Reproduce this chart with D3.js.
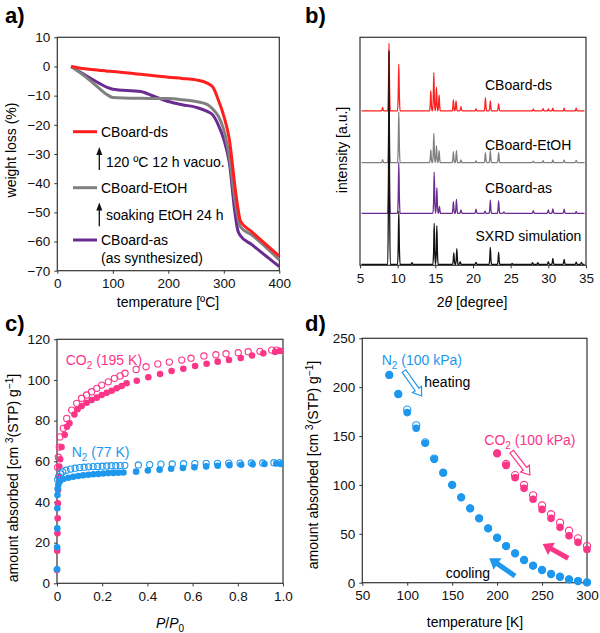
<!DOCTYPE html>
<html lang="en">
<head>
<meta charset="UTF-8">
<title>CBoard figure</title>
<script src="https://cdn.jsdelivr.net/npm/d3@7"></script>
<style>
  body { margin: 0; background: #fff; }
  svg text { font-family: "Liberation Sans", Arial, sans-serif; }
</style>
</head>
<body>
<svg id="fig" width="600" height="633"></svg>
<script>
// ---- a) TGA curves
var tgaTemp   = [25, 50, 75, 90, 100, 150, 175, 200, 225, 250, 270, 280, 290, 300, 310, 320, 325, 330, 350, 400];
var tgaDs     = [0, -0.8, -1.3, -1.6, -1.7, -2.7, -3.2, -3.7, -4.1, -4.6, -5.7, -7, -11.4, -17, -25, -41, -48, -53, -56.6, -65];
var tgaEtOH   = [0, -3.4, -7.4, -9.7, -10.6, -10.9, -10.95, -11, -11.4, -12, -13, -14.6, -17, -21.7, -31, -45.7, -51.4, -55, -57.7, -66.3];
var tgaAs     = [0, -2.9, -5.7, -7.2, -7.8, -8.6, -10.3, -12, -13.1, -14, -15.4, -16.6, -20, -25, -33, -50, -56, -58, -61, -68.6];

// ---- b) PXRD peaks (2theta, height) and offsets
var dsPos   = [8.0, 8.85, 10.15, 14.4, 14.8, 15.15, 15.5, 17.4, 17.75, 18.4, 20.4, 21.65, 22.3, 23.4, 28.0, 29.3, 30.0, 30.6, 32.1, 33.7];
var dsInt   = [1.5, 29.7, 20.5, 8.9, 16.8, 10.4, 7.0, 4.8, 4.4, 1.9, 0.9, 5.8, 4.4, 3.2, 0.8, 1.0, 0.9, 1.2, 1.2, 1.2];
var etohPos = [8.0, 8.85, 10.15, 14.4, 14.8, 15.15, 15.5, 17.4, 17.8, 18.4, 20.4, 21.65, 22.3, 23.4, 28.0, 29.3, 30.6, 32.1, 33.7];
var etohInt = [1.3, 28, 22.4, 5.6, 12.9, 7.5, 5.3, 4.8, 5.3, 1.2, 0.8, 4.4, 5.3, 4.4, 0.7, 0.9, 1.2, 1.1, 1.0];
var asPos   = [8.85, 10.15, 14.85, 15.2, 15.55, 17.4, 17.8, 18.4, 20.4, 21.6, 22.3, 23.4, 24.1, 28.0, 30.0, 30.6, 32.1, 33.7];
var asInt   = [30, 22.4, 18.1, 11.3, 3.0, 5.1, 6.1, 1.5, 1.8, 1.0, 5.8, 5.4, 0.6, 1.2, 1.5, 1.9, 1.8, 0.8];
var simPos  = [8.85, 10.15, 11.9, 14.85, 15.2, 17.45, 17.85, 18.3, 20.4, 22.3, 23.4, 25.2, 27.9, 28.6, 30.0, 30.6, 32.1, 33.7, 34.4];
var simInt  = [93.5, 23.4, 0.8, 18, 17, 5, 6.9, 1.2, 0.9, 7.5, 5.3, 0.4, 0.8, 0.8, 1.2, 2.6, 2.2, 1.0, 0.9];
var xrdNames   = ["CBoard-ds", "CBoard-EtOH", "CBoard-as", "SXRD simulation"];
var xrdOffsets = [67.7, 45, 22.8, 0.4];

// ---- c) isotherms
var co2AdsP = [0, 0.001, 0.002, 0.003, 0.004, 0.005, 0.007, 0.01, 0.014, 0.02, 0.034, 0.044, 0.055, 0.077, 0.091, 0.109, 0.131, 0.153, 0.176, 0.198, 0.22, 0.242, 0.264, 0.286, 0.308, 0.353, 0.404, 0.456, 0.507, 0.559, 0.611, 0.662, 0.711, 0.761, 0.813, 0.863, 0.913, 0.965, 0.987];
var co2AdsV = [6.6, 16, 24.6, 32, 39.3, 46, 52.5, 57.4, 61, 67, 73, 77, 78.7, 83, 85.6, 87.2, 88.8, 90.1, 91.3, 92.6, 93.7, 94.7, 95.9, 97, 98.4, 99.6, 101.3, 102.9, 104.4, 105.5, 106.9, 108, 109, 109.8, 110.8, 112, 113.1, 113.8, 114.3];
var co2DesP = [0.003, 0.006, 0.01, 0.013, 0.028, 0.043, 0.065, 0.087, 0.109, 0.131, 0.153, 0.176, 0.198, 0.227, 0.254, 0.279, 0.301, 0.35, 0.394, 0.446, 0.497, 0.552, 0.593, 0.65, 0.703, 0.748, 0.802, 0.846, 0.898, 0.95, 0.972];
var co2DesV = [57, 62, 67, 72, 76.2, 81.1, 85.2, 88.5, 91, 92.6, 94.2, 95.9, 97.5, 99.1, 100.8, 102, 103.3, 105.2, 106.5, 107.9, 108.8, 109.8, 110.7, 111.8, 112.4, 112.9, 113.4, 113.9, 114.1, 114.7, 114.7];
var n2AdsP  = [0.0002, 0.0005, 0.001, 0.0015, 0.002, 0.003, 0.006, 0.013, 0.028, 0.05, 0.072, 0.094, 0.116, 0.139, 0.161, 0.183, 0.205, 0.227, 0.25, 0.272, 0.294, 0.35, 0.402, 0.454, 0.505, 0.557, 0.608, 0.66, 0.711, 0.763, 0.815, 0.866, 0.918, 0.97, 0.99];
var n2AdsV  = [6.9, 17.7, 27, 36.9, 43.4, 46.5, 48.5, 50.2, 51.3, 51.9, 52.4, 52.8, 53.1, 53.4, 53.6, 53.8, 54.0, 54.2, 54.3, 54.4, 54.5, 54.9, 55.5, 55.9, 56.3, 56.7, 57.1, 57.5, 57.8, 58.1, 58.3, 58.5, 58.7, 58.9, 58.7];
var n2DesP  = [0.003, 0.008, 0.015, 0.025, 0.04, 0.06, 0.08, 0.1, 0.12, 0.14, 0.16, 0.18, 0.2, 0.22, 0.24, 0.26, 0.28, 0.3, 0.36, 0.41, 0.46, 0.51, 0.56, 0.61, 0.66, 0.71, 0.76, 0.81, 0.86, 0.91, 0.96, 0.985];
var n2DesV  = [51, 52.5, 53.8, 54.8, 55.6, 56.2, 56.6, 56.9, 57.1, 57.3, 57.4, 57.5, 57.6, 57.7, 57.8, 57.8, 57.9, 58, 58.2, 58.4, 58.6, 58.7, 58.8, 58.9, 59, 59, 59.1, 59.1, 59.2, 59.2, 59.3, 59.3];

// ---- d) isobars
var n2Temp  = [80, 90, 100, 110, 120, 130, 140, 150, 160, 170, 180, 190, 200, 210, 220, 230, 240, 250, 260, 270, 280, 290, 300];
var n2Cool  = [212.5, 192.7, 174, 158, 142.6, 126.2, 112.5, 100, 87.3, 76, 65.8, 55.6, 46, 37.5, 30, 23.2, 17.4, 13, 8.9, 6.1, 3.4, 1.7, 0.3];
var n2Heat  = [212.5, 193, 177, 161, 143.5, 127, 112.5, 100, 87.3, 76, 65.8, 55.6, 46, 37.5, 30, 23.2, 17.4, 13, 8.9, 6.1, 3.4, 1.7, 0.3];
var co2Temp = [200, 210, 220, 230, 240, 250, 260, 270, 280, 290, 300];
var co2Cool = [132.3, 120, 107.4, 96.5, 85.3, 75, 65.8, 56.6, 48, 41.3, 34];
var co2Heat = [132.3, 121.4, 110, 100, 89.4, 79, 70, 61.4, 53.2, 45.4, 37.5];

var RED = "#ff1f1f", GRAY = "#808080", PURPLE = "#6b2c91", PINK = "#fb3587", BLUE = "#1e98ee";

var svg = d3.select("#fig");

function drawFrame(x, y, xVals, yVals, xFmt) {
  var g = svg.append("g");
  var xa = d3.axisBottom(x).tickValues(xVals).tickSize(3).tickSizeOuter(0).tickPadding(5);
  if (xFmt) xa.tickFormat(xFmt);
  g.append("g").attr("transform", "translate(0," + y.range()[0] + ")").call(xa);
  if (yVals) {
    var ya = d3.axisLeft(y).tickValues(yVals).tickSize(3).tickSizeOuter(0).tickPadding(4);
    g.append("g").attr("transform", "translate(" + x.range()[0] + ",0)").call(ya);
  }
  g.selectAll(".domain").remove();
  g.selectAll(".tick text").attr("font-size", 13.5).attr("fill", "#111")
    .attr("font-family", '"Liberation Sans", Arial, sans-serif');
  g.selectAll(".tick line").attr("stroke", "#333");
  g.append("rect")
    .attr("x", x.range()[0]).attr("y", y.range()[1])
    .attr("width", x.range()[1] - x.range()[0])
    .attr("height", y.range()[0] - y.range()[1])
    .attr("fill", "none").attr("stroke", "#333").attr("stroke-width", 1.2);
}

function panelLabel(txt, x, y) {
  svg.append("text").attr("x", x).attr("y", y).attr("font-size", 22)
    .attr("font-weight", "bold").text(txt);
}

function arrowShape(x1, y1, x2, y2, sw, hw, hl) {
  var dx = x2 - x1, dy = y2 - y1, L = Math.hypot(dx, dy);
  var ux = dx / L, uy = dy / L, px = -uy, py = ux;
  var bx = x2 - ux * hl, by = y2 - uy * hl;
  var pts = [
    [x1 + px * sw / 2, y1 + py * sw / 2], [bx + px * sw / 2, by + py * sw / 2],
    [bx + px * hw / 2, by + py * hw / 2], [x2, y2],
    [bx - px * hw / 2, by - py * hw / 2], [bx - px * sw / 2, by - py * sw / 2],
    [x1 - px * sw / 2, y1 - py * sw / 2]
  ];
  return pts.map(function (p) { return p.join(","); }).join(" ");
}

// ================= a) =================
var xA = d3.scaleLinear().domain([0, 400]).range([57.3, 279.3]);
var yA = d3.scaleLinear().domain([-70, 10]).range([270.7, 37.3]);
drawFrame(xA, yA, [0, 100, 200, 300, 400], d3.range(-70, 11, 10));
panelLabel("a)", 5, 23);

var lineA = d3.line().x(function (d) { return xA(d[0]); }).y(function (d) { return yA(d[1]); })
  .curve(d3.curveMonotoneX);
[[tgaAs, PURPLE], [tgaEtOH, GRAY], [tgaDs, RED]].forEach(function (s) {
  svg.append("path").datum(d3.zip(tgaTemp, s[0])).attr("d", lineA)
    .attr("fill", "none").attr("stroke", s[1]).attr("stroke-width", 3);
});

// legend
var legA = [["CBoard-ds", RED, 131.7], ["CBoard-EtOH", GRAY, 187.7], ["CBoard-as", PURPLE, 240]];
legA.forEach(function (l) {
  svg.append("line").attr("x1", 73).attr("x2", 97).attr("y1", l[2]).attr("y2", l[2])
    .attr("stroke", l[1]).attr("stroke-width", 3);
  svg.append("text").attr("x", 101).attr("y", l[2]).attr("dy", "0.35em")
    .attr("font-size", 14).text(l[0]);
});
svg.append("text").attr("x", 101).attr("y", 258).attr("dy", "0.35em").attr("font-size", 14)
  .text("(as synthesized)");
[[75.7, -35.5, -27.6, "120 ºC 12 h vacuo.", 161.7], [75.7, -54.8, -46.6, "soaking EtOH 24 h", 215]]
  .forEach(function (a) {
    svg.append("line").attr("x1", xA(a[0])).attr("x2", xA(a[0]))
      .attr("y1", yA(a[1])).attr("y2", yA(a[2]) + 5)
      .attr("stroke", "#111").attr("stroke-width", 1.3);
    svg.append("polygon").attr("fill", "#111")
      .attr("points", arrowShape(xA(a[0]), yA(a[1]), xA(a[0]), yA(a[2]), 0, 6, 8));
    svg.append("text").attr("x", 106).attr("y", a[4]).attr("dy", "0.35em")
      .attr("font-size", 14).text(a[3]);
  });

svg.append("text").attr("transform", "translate(11,150) rotate(-90)")
  .attr("text-anchor", "middle").attr("dy", "0.35em").attr("font-size", 14).text("weight loss (%)");
svg.append("text").attr("x", 168).attr("y", 302).attr("dy", "0.35em")
  .attr("text-anchor", "middle").attr("font-size", 14).text("temperature [ºC]");

// ================= b) =================
var xB = d3.scaleLinear().domain([5, 35]).range([360, 586]);
var yB = d3.scaleLinear().domain([0, 100]).range([265.3, 37.3]);
drawFrame(xB, yB, d3.range(5, 36, 5), null);
panelLabel("b)", 305, 23);

var lineB = d3.line().x(function (d) { return xB(d[0]); }).y(function (d) { return yB(d[1]); })
  .curve(d3.curveMonotoneX);
function pattern(pos, inten, base) {
  var w = 0.17, pts = [[5.2, base]];
  pos.forEach(function (p, i) {
    pts.push([p - w, base], [p - 0.08, base + inten[i] * 0.3], [p, base + inten[i]],
             [p + 0.08, base + inten[i] * 0.3], [p + w, base]);
  });
  pts.push([34.8, base]);
  return pts;
}
var xrdSets = [[dsPos, dsInt, RED], [etohPos, etohInt, GRAY], [asPos, asInt, PURPLE], [simPos, simInt, "#111"]];
xrdSets.forEach(function (s, i) {
  svg.append("path").datum(pattern(s[0], s[1], xrdOffsets[i])).attr("d", lineB)
    .attr("fill", "none").attr("stroke", s[2]).attr("stroke-width", 1.3)
    .attr("stroke-linejoin", "round");
});
var xrdLabelY = [85, 145, 188, 236];
xrdNames.forEach(function (n, i) {
  svg.append("text").attr("x", i === 3 ? 475.5 : 485).attr("y", xrdLabelY[i]).attr("dy", "0.35em")
    .attr("font-size", 14).text(n);
});
svg.append("text").attr("transform", "translate(342,150) rotate(-90)")
  .attr("text-anchor", "middle").attr("dy", "0.35em").attr("font-size", 14).text("intensity [a.u.]");
var tb = svg.append("text").attr("x", 472).attr("y", 302).attr("dy", "0.35em")
  .attr("text-anchor", "middle").attr("font-size", 14);
tb.append("tspan").text("2");
tb.append("tspan").attr("font-style", "italic").text("θ");
tb.append("tspan").text(" [degree]");

// ================= c) =================
var xC = d3.scaleLinear().domain([0, 1]).range([57, 283]);
var yC = d3.scaleLinear().domain([0, 120]).range([583.3, 339.3]);
drawFrame(xC, yC, [0, 0.2, 0.4, 0.6, 0.8, 1.0], d3.range(0, 121, 20),
  function (d) { return d === 0 ? "0" : d3.format(".1f")(d); });
panelLabel("c)", 5, 331);

function dots(xs, ys, P, V, color, filled, r) {
  svg.append("g").selectAll("circle").data(d3.zip(P, V)).join("circle")
    .attr("cx", function (d) { return xs(d[0]); })
    .attr("cy", function (d) { return ys(d[1]); })
    .attr("r", r)
    .attr("fill", filled ? color : "#fff")
    .attr("fill-opacity", filled ? 1 : 0)
    .attr("stroke", color).attr("stroke-width", filled ? 0 : 1.1);
}
dots(xC, yC, co2DesP, co2DesV, PINK, false, 3.1);
dots(xC, yC, co2AdsP, co2AdsV, PINK, true, 3.3);
dots(xC, yC, n2DesP, n2DesV, BLUE, false, 3.1);
dots(xC, yC, n2AdsP, n2AdsV, BLUE, true, 3.3);

function gasLabel(x, y, gas, rest, color) {
  var t = svg.append("text").attr("x", x).attr("y", y).attr("dy", "0.35em")
    .attr("font-size", 14).attr("fill", color);
  t.append("tspan").text(gas);
  t.append("tspan").attr("font-size", 10).attr("dy", 4).text("2");
  t.append("tspan").attr("dy", -4).text(" " + rest);
}
gasLabel(65.7, 360, "CO", "(195 K)", PINK);
gasLabel(71.7, 451.7, "N", "(77 K)", BLUE);

function amountTitle(cx, cy) {
  var t = svg.append("text").attr("transform", "translate(" + cx + "," + cy + ") rotate(-90)")
    .attr("text-anchor", "middle").attr("dy", "0.35em").attr("font-size", 14);
  t.append("tspan").text("amount absorbed [cm ");
  t.append("tspan").attr("font-size", 10).attr("dy", -5).text("3");
  t.append("tspan").attr("dy", 5).text("(STP) g");
  t.append("tspan").attr("font-size", 10).attr("dy", -5).text("−1");
  t.append("tspan").attr("dy", 5).text("]");
}
amountTitle(13, 478);
var tc = svg.append("text").attr("x", 170).attr("y", 623).attr("dy", "0.35em")
  .attr("text-anchor", "middle").attr("font-size", 14);
tc.append("tspan").attr("font-style", "italic").text("P");
tc.append("tspan").text("/");
tc.append("tspan").attr("font-style", "italic").text("P");
tc.append("tspan").attr("font-size", 10).attr("dy", 4).text("0");

// ================= d) =================
var xD = d3.scaleLinear().domain([50, 300]).range([362.3, 587]);
var yD = d3.scaleLinear().domain([0, 250]).range([582.7, 338.3]);
drawFrame(xD, yD, d3.range(50, 301, 50), d3.range(0, 251, 50));
panelLabel("d)", 305, 331);

dots(xD, yD, n2Temp, n2Heat, BLUE, false, 3.6);
dots(xD, yD, n2Temp, n2Cool, BLUE, true, 3.8);
dots(xD, yD, co2Temp, co2Heat, PINK, false, 3.6);
dots(xD, yD, co2Temp, co2Cool, PINK, true, 3.8);

gasLabel(381.7, 360, "N", "(100 kPa)", BLUE);
gasLabel(484.3, 440, "CO", "(100 kPa)", PINK);
svg.append("text").attr("x", 424.3).attr("y", 381.7).attr("dy", "0.35em").attr("font-size", 14).text("heating");
svg.append("text").attr("x", 445.7).attr("y", 573.3).attr("dy", "0.35em").attr("font-size", 14).text("cooling");

// arrows in data coordinates: [T1, V1, T2, V2, color, hollow]
var arrowsD = [
  [96.4, 216.5, 116, 191, BLUE, true],
  [216.2, 134, 236.5, 110.2, PINK, true],
  [279.1, 25, 250.7, 39.6, PINK, false],
  [219.9, 6.9, 191.3, 25, BLUE, false]
];
arrowsD.forEach(function (a) {
  svg.append("polygon")
    .attr("points", arrowShape(xD(a[0]), yD(a[1]), xD(a[2]), yD(a[3]), a[5] ? 4.5 : 5, a[5] ? 11 : 14, a[5] ? 8 : 10))
    .attr("fill", a[5] ? "#fff" : a[4])
    .attr("stroke", a[4]).attr("stroke-width", a[5] ? 1.2 : 0);
});

amountTitle(313, 465);
svg.append("text").attr("x", 475).attr("y", 622).attr("dy", "0.35em")
  .attr("text-anchor", "middle").attr("font-size", 14).text("temperature [K]");
</script>
</body>
</html>
